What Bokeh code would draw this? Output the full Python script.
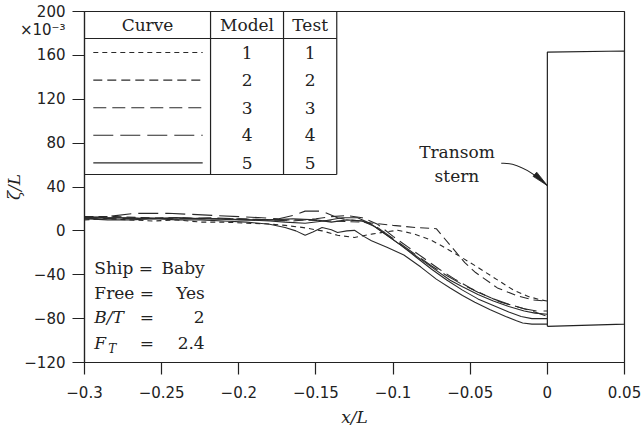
import math
from bokeh.plotting import figure
from bokeh.models import Range1d, FixedTicker, CustomJSTickFormatter, LinearAxis
from bokeh.embed import file_html
from bokeh.resources import INLINE
from bokeh.core.properties import value

# ---------------- data ----------------
x_ticks = [-0.3, -0.25, -0.2, -0.15, -0.1, -0.05, 0.0, 0.05]
x_tick_labels = ["\u22120.3", "\u22120.25", "\u22120.2", "\u22120.15", "\u22120.1", "\u22120.05", "0", "0.05"]
y_ticks = [-120, -80, -40, 0, 40, 80, 120, 160, 200]
y_tick_labels = ["\u2212120", "\u221280", "\u221240", "0", "40", "80", "120", "160", "200"]
y_exp_tick = 182.7
y_exp_label = "\u00d710\u207b\u00b3"

curve_ids = ["1", "2", "3", "4", "5"]
model_ids = ["1", "2", "3", "4", "5"]
test_ids = ["1", "2", "3", "4", "5"]
curve_dashes = ["5 4", "9 5", "13 6", "20 7", "solid"]

c1_x = [-0.3, -0.285, -0.27, -0.255, -0.24, -0.225, -0.21, -0.195, -0.1825, -0.17, -0.158, -0.146,
        -0.136, -0.125, -0.114, -0.105, -0.097, -0.087, -0.076, -0.068, -0.057, -0.0465, -0.032,
        -0.022, -0.012, -0.004, 0.0]
c1_y = [10, 11, 10, 9, 10, 8, 8, 7, 6.5, 5, 3, 0, -4, -6, -3, -1, 0.5, -2.5, -8, -14, -23, -32, -45,
        -54, -60, -63, -64]

c2_x = [-0.3, -0.28, -0.26, -0.24, -0.22, -0.2, -0.18, -0.16, -0.14, -0.12, -0.1, -0.085, -0.072,
        -0.0535, -0.0465, -0.0324, -0.02, -0.0094, 0.0]
c2_y = [13, 13, 12, 12, 11, 11, 10, 10, 9, 8, 5, 3, 2, -29, -38, -52, -59, -63, -64]

c3_x = [-0.3, -0.28, -0.26, -0.24, -0.22, -0.2, -0.18, -0.165, -0.15, -0.14, -0.13, -0.12, -0.11,
        -0.1, -0.09, -0.08, -0.07, -0.06, -0.05, -0.04, -0.03, -0.02, -0.01, -0.004, 0.0]
c3_y = [12, 11, 12, 11, 12, 11, 10, 9, 11, 13, 14, 12, 6, -5, -15, -25, -35, -44, -52, -59, -65,
        -69, -73, -76, -78]

c4_x = [-0.3, -0.285, -0.267, -0.246, -0.23, -0.216, -0.2, -0.185, -0.174, -0.165, -0.157, -0.146,
        -0.136, -0.129, -0.12, -0.112, -0.104, -0.095, -0.085, -0.075, -0.065, -0.055, -0.045,
        -0.035, -0.025, -0.015, -0.007, 0.0]
c4_y = [12, 13, 16, 16, 15, 14, 13, 12, 11, 14, 18, 18, 12, 10, 9, 5, -3, -12, -22, -32, -41, -49,
        -56, -62, -67, -71, -73, -73]

c5a_x = [-0.3, -0.285, -0.27, -0.255, -0.24, -0.225, -0.21, -0.195, -0.18, -0.17, -0.157, -0.145,
         -0.133, -0.123, -0.115, -0.108, -0.1, -0.093, -0.082, -0.072, -0.063, -0.055, -0.045,
         -0.035, -0.025, -0.015, -0.008, 0.0]
c5a_y = [13, 12, 12, 11, 12, 11, 11, 10, 9, 8, 7, 9, 12, 12, 7, 0, -8, -15, -26, -36, -45, -51,
         -58, -64, -69, -73, -75, -76]

c5b_x = [-0.3, -0.285, -0.27, -0.255, -0.24, -0.225, -0.21, -0.195, -0.18, -0.17, -0.163, -0.157,
         -0.152, -0.146, -0.14, -0.136, -0.13, -0.125, -0.119, -0.114, -0.104, -0.093, -0.082,
         -0.072, -0.063, -0.055, -0.047, -0.037, -0.027, -0.02, -0.016, -0.01, 0.0]
c5b_y = [11, 10, 10, 11, 10, 10, 9, 8, 6, 3, 0, -4, -1, 3, 1, -1.5, 0, 0.5, -5, -9, -15, -22, -33,
         -44, -52, -59, -65, -72, -78, -82, -84, -85, -85]

c5c_x = [-0.3, -0.28, -0.26, -0.24, -0.22, -0.2, -0.18, -0.165, -0.15, -0.14, -0.13, -0.12, -0.112,
         -0.104, -0.095, -0.085, -0.075, -0.065, -0.055, -0.045, -0.035, -0.025, -0.017, -0.01, 0.0]
c5c_y = [11, 12, 11, 12, 11, 10, 10, 11, 10, 8, 10, 9, 4, -4, -13, -24, -35, -45, -54, -62, -68,
         -74, -78, -80, -80]

transom_x = [0.0, 0.0, 0.05, 0.05, 0.0]
transom_y = [-87, 163, 164, -85, -87]

info_keys = ["Ship =", "Free =", "B/T", "F"]
info_vals = ["Baby", "Yes", "2", "2.4"]

# ---------------- layout constants ----------------
W, H = 642, 437
BL, BR, BT, BB = 76, 18, 11, 75
X0, X1, Y0, Y1 = -0.3, 0.05, -120, 200
sx = (W - BL - BR) / (X1 - X0)      # px per x unit
sy = (H - BT - BB) / (Y1 - Y0)      # px per y unit

INK = "#222222"
SERIF = "DejaVu Serif"
SANS = "DejaVu Sans"

p = figure(width=W, height=H, output_backend="svg", toolbar_location=None,
           x_range=Range1d(X0, X1), y_range=Range1d(Y0, Y1),
           min_border_left=BL, min_border_right=BR, min_border_top=BT, min_border_bottom=BB)
p.background_fill_color = "white"
p.border_fill_color = "white"
p.outline_line_color = INK
p.outline_line_width = 1.2
p.xgrid.visible = False
p.ygrid.visible = False

fmt_code = """
let best = 0, d = Infinity;
for (let i = 0; i < tv.length; i++) {
  const e = Math.abs(tv[i] - tick);
  if (e < d) { d = e; best = i; }
}
return tl[best];
"""

# x axis
xa = p.xaxis[0]
xa.ticker = FixedTicker(ticks=x_ticks)
xa.formatter = CustomJSTickFormatter(args=dict(tv=x_ticks, tl=x_tick_labels), code=fmt_code)
xa.axis_line_color = INK
xa.axis_line_width = 1.2
xa.major_tick_line_color = INK
xa.major_tick_line_width = 1.2
xa.major_tick_out = 12
xa.major_tick_in = 0
xa.minor_tick_line_color = None
xa.major_label_text_font = SANS
xa.major_label_text_font_size = "15px"
xa.major_label_text_color = INK
xa.major_label_standoff = 11
xa.axis_label = "x/L"
xa.axis_label_text_font = SERIF
xa.axis_label_text_font_style = "italic"
xa.axis_label_text_font_size = "17px"
xa.axis_label_text_color = INK
xa.axis_label_standoff = 6

# y axis (inner): tick marks only
yb = p.yaxis[0]
yb.ticker = FixedTicker(ticks=y_ticks)
yb.formatter = CustomJSTickFormatter(code="return '';")
yb.axis_line_color = INK
yb.axis_line_width = 1.2
yb.major_tick_line_color = INK
yb.major_tick_line_width = 1.2
yb.major_tick_out = 12
yb.major_tick_in = 0
yb.minor_tick_line_color = None
yb.major_label_standoff = 0
yb.major_label_text_font_size = "1px"

# y axis (outer): labels, exponent and axis title
ya_ticks = y_ticks + [y_exp_tick]
ya_labels = y_tick_labels + [y_exp_label]
ya = LinearAxis(ticker=FixedTicker(ticks=ya_ticks),
                formatter=CustomJSTickFormatter(args=dict(tv=ya_ticks, tl=ya_labels), code=fmt_code),
                axis_line_color=None, major_tick_line_color=None, minor_tick_line_color=None,
                major_tick_out=0, major_tick_in=0, major_label_standoff=7,
                major_label_text_font=SANS, major_label_text_font_size="15px",
                major_label_text_color=INK,
                axis_label="\u03b6/L", axis_label_standoff=-7, axis_label_text_font=SERIF,
                axis_label_text_font_style="italic", axis_label_text_font_size="17px",
                axis_label_text_color=INK)
p.add_layout(ya, "left")

# ---------------- curves ----------------
series = [(c1_x, c1_y, curve_dashes[0]), (c2_x, c2_y, curve_dashes[1]), (c3_x, c3_y, curve_dashes[2]),
          (c4_x, c4_y, curve_dashes[3]), (c5a_x, c5a_y, curve_dashes[4]), (c5b_x, c5b_y, curve_dashes[4]),
          (c5c_x, c5c_y, curve_dashes[4])]
for xs, ys, dash in series:
    p.line(xs, ys, line_color="#2a2a2a", line_width=1.1, line_dash=dash)

# transom
p.line(transom_x, transom_y, line_color=INK, line_width=1.2)

# ---------------- legend table ----------------
tbl_left, tbl_right = -0.3, -0.1365
col1, col2 = -0.2183, -0.171
tbl_top, tbl_head, tbl_bottom = 200, 175.4, 51.4
row0, row_step = 162.6, 25.15
p.segment(x0=[tbl_left, tbl_left, col1, col2, tbl_right],
          y0=[tbl_head, tbl_bottom, tbl_top, tbl_top, tbl_top],
          x1=[tbl_right, tbl_right, col1, col2, tbl_right],
          y1=[tbl_head, tbl_bottom, tbl_bottom, tbl_bottom, tbl_bottom],
          line_color=INK, line_width=1.2)
head_y = (tbl_top + tbl_head) / 2
p.text(x=[(tbl_left + col1) / 2, (col1 + col2) / 2, (col2 + tbl_right) / 2], y=[head_y] * 3,
       text=["Curve", "Model", "Test"], text_font=value(SERIF), text_font_size="17px",
       text_align="center", text_baseline="middle", text_color=INK)
row_y = [row0 - i * row_step for i in range(len(curve_ids))]
for i, dash in enumerate(curve_dashes):
    p.line([-0.2943, -0.2234], [row_y[i], row_y[i]], line_color="#2a2a2a", line_width=1.1, line_dash=dash)
p.text(x=[(col1 + col2) / 2] * len(model_ids), y=row_y, text=model_ids, text_font=value(SERIF),
       text_font_size="17px", text_align="center", text_baseline="middle", text_color=INK)
p.text(x=[(col2 + tbl_right) / 2] * len(test_ids), y=row_y, text=test_ids, text_font=value(SERIF),
       text_font_size="17px", text_align="center", text_baseline="middle", text_color=INK)

# ---------------- info block ----------------
info_y = [-33.4, -56.2, -78.9, -102.6]
kx, vx, eqx = -0.2936, -0.2221, -0.2642
p.text(x=[kx, kx], y=info_y[:2], text=info_keys[:2], text_font=value(SERIF), text_font_size="17px",
       text_align="left", text_baseline="middle", text_color=INK)
p.text(x=[kx, kx], y=info_y[2:], text=info_keys[2:], text_font=value(SERIF), text_font_size="17px",
       text_font_style="italic", text_align="left", text_baseline="middle", text_color=INK)
p.text(x=[kx + 14 / sx], y=[info_y[3] - 5], text=["T"], text_font=value(SERIF), text_font_size="12px",
       text_font_style="italic", text_align="left", text_baseline="middle", text_color=INK)
p.text(x=[eqx, eqx], y=info_y[2:], text=["=", "="], text_font=value(SERIF), text_font_size="17px",
       text_align="left", text_baseline="middle", text_color=INK)
p.text(x=[vx] * 4, y=info_y, text=info_vals, text_font=value(SERIF), text_font_size="17px",
       text_align="right", text_baseline="middle", text_color=INK)

# ---------------- transom annotation ----------------
p.text(x=[-0.0586, -0.0586], y=[71.5, 49.6], text=["Transom", "stern"], text_font=value(SERIF),
       text_font_size="17px", text_align="center", text_baseline="middle", text_color=INK)
tip_x, tip_y = 0.0, 41.3
tail_x, tail_y = -0.0299, 61.6
ctl_x, ctl_y = -0.017, 63.0
p.quadratic(x0=[tail_x], y0=[tail_y], x1=[tip_x], y1=[tip_y], cx=[ctl_x], cy=[ctl_y],
            line_color=INK, line_width=1.1)
dxp = (tip_x - ctl_x) * sx
dyp = -(tip_y - ctl_y) * sy
n = math.hypot(dxp, dyp)
ux, uy = dxp / n, dyp / n
L, hw = 17, 2.8
bx_p, by_p = -L * ux, -L * uy
hx = [tip_x, tip_x + (bx_p - hw * uy) / sx, tip_x + (bx_p + hw * uy) / sx]
hy = [tip_y, tip_y - (by_p + hw * ux) / sy, tip_y - (by_p - hw * ux) / sy]
p.patch(hx, hy, fill_color=INK, line_color=INK, line_width=0.8)

open("out.html", "w").write(file_html(p, INLINE))
